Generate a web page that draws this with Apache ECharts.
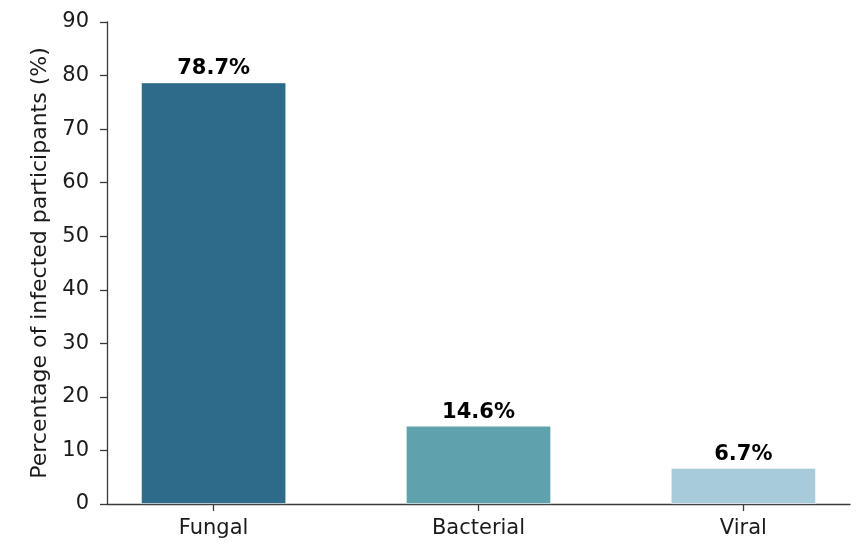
<!DOCTYPE html>
<html>
<head>
<meta charset="utf-8">
<script src="https://cdn.jsdelivr.net/npm/echarts@6/dist/echarts.min.js"></script>
<style>html,body{margin:0;padding:0;background:#fff}#c{width:861px;height:545px}</style>
</head>
<body>
<div id="c"></div>
<script>
const categories = ['Fungal', 'Bacterial', 'Viral'];
const values = [78.7, 14.6, 6.7];
const colors = ['#2e6b8a', '#5fa2ae', '#a8cbda'];
const yTicks = [0, 10, 20, 30, 40, 50, 60, 70, 80, 90];

const chart = echarts.init(document.getElementById('c'));
const font = 'DejaVu Sans';
chart.setOption({
  animation: false,
  grid: { left: 107, right: 11, top: 22, bottom: 41 },
  xAxis: {
    type: 'value',
    min: -0.4025,
    max: 2.4025,
    splitLine: { show: false },
    axisLine: { show: true, onZero: false, lineStyle: { color: '#3a3a3a', width: 1.3 } },
    axisTick: { show: true, length: 7, lineStyle: { color: '#3a3a3a', width: 1.3 }, customValues: categories.map((_, i) => i) },
    axisLabel: {
      customValues: categories.map((_, i) => i),
      formatter: v => categories[Math.round(v)],
      fontFamily: font, fontSize: 21, color: '#1a1a1a', margin: 14
    }
  },
  yAxis: {
    type: 'value',
    min: 0,
    max: 90,
    interval: 10,
    name: 'Percentage of infected participants (%)',
    nameLocation: 'middle',
    nameGap: 52,
    nameTextStyle: { fontFamily: font, fontSize: 22, color: '#1a1a1a' },
    splitLine: { show: false },
    axisLine: { show: true, onZero: false, lineStyle: { color: '#3a3a3a', width: 1.3 } },
    axisTick: { show: true, length: 7, lineStyle: { color: '#3a3a3a', width: 1.3 } },
    axisLabel: {
      customValues: yTicks,
      fontFamily: font, fontSize: 21, color: '#1a1a1a', margin: 18
    }
  },
  series: [{
    type: 'bar',
    barWidth: 145,
    data: values.map((v, i) => ({ value: [i, v], itemStyle: { color: colors[i] } })),
    itemStyle: { borderColor: 'rgba(255,255,255,0.6)', borderWidth: 0.8 },
    label: {
      show: true,
      position: 'top',
      distance: 3,
      formatter: p => p.value[1].toFixed(1) + '%',
      fontFamily: font, fontSize: 21, fontWeight: 'bold', color: '#000'
    }
  }]
});
</script>
</body>
</html>
